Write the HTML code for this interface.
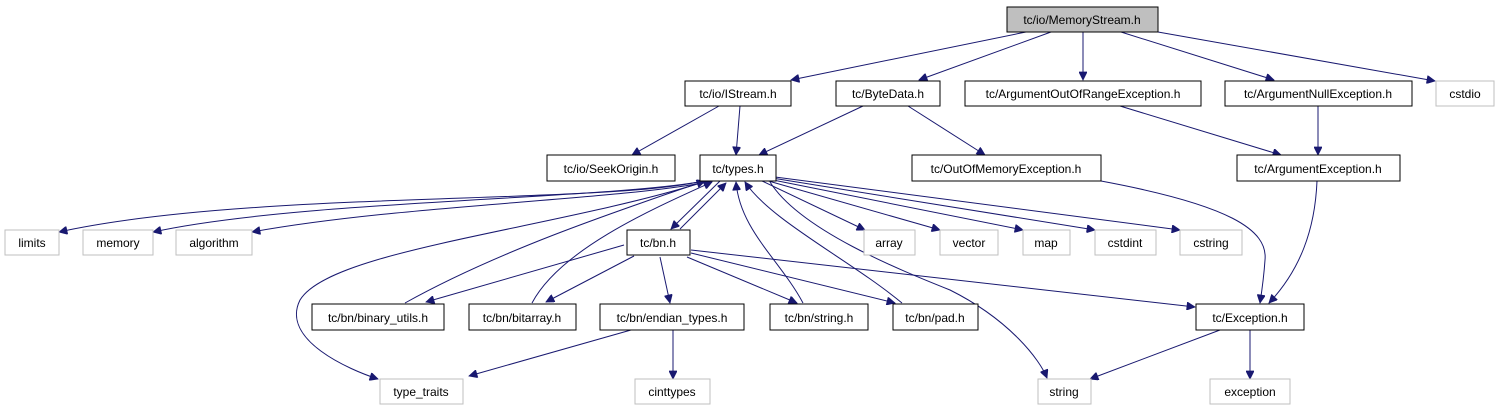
<!DOCTYPE html>
<html><head><meta charset="utf-8"><style>
html,body{margin:0;padding:0;background:#fff}
svg{display:block}
text{font-family:"Liberation Sans",Helvetica,sans-serif;font-size:12px;text-anchor:middle;fill:#000}
.n rect{fill:#fff;stroke:#000;stroke-width:1}
.g rect{fill:#fff;stroke:#bfbfbf;stroke-width:1}
path{fill:none;stroke:#191970;stroke-width:1}
</style></head><body>
<svg width="1495" height="411" viewBox="0 0 1495 411" xmlns="http://www.w3.org/2000/svg">
<defs><marker id="a" viewBox="0 0 10 10" refX="10" refY="5" markerWidth="10" markerHeight="8" orient="auto" markerUnits="userSpaceOnUse"><path d="M0,0 L10,5 L0,10 z" style="fill:#191970;stroke:#191970"/></marker></defs>
<g marker-end="url(#a)">
<path d="M1026,32 L791,80"/>
<path d="M1051,32 L919,80"/>
<path d="M1083,32 L1083,80"/>
<path d="M1121,32 L1274,80"/>
<path d="M1158,32 L1435,81"/>
<path d="M719,106 L632,155"/>
<path d="M740,106 L736,155"/>
<path d="M863,106 L759,155"/>
<path d="M908,106 L985,155"/>
<path d="M1120,106 L1281,155"/>
<path d="M1318,106 L1318,155"/>
<path d="M1101,181 C1230,205 1268,230 1265,260 C1264,275 1262,290 1260,303"/>
<path d="M1317,181 C1315,230 1300,270 1269,303"/>
<path d="M703,181 C600,205 250,190 59,232"/>
<path d="M705,181 C600,200 300,200 153,232"/>
<path d="M707,182 C620,200 400,205 252,232"/>
<path d="M762,181 L865,230"/>
<path d="M765,180 L940,230"/>
<path d="M768,179 L1023,230"/>
<path d="M772,178 L1095,230"/>
<path d="M775,177 L1180,230"/>
<path d="M720,181 L671,229"/>
<path d="M680,229 L726,183"/>
<path d="M624,245 L426,302"/>
<path d="M634,256 L546,302"/>
<path d="M660,257 L670,303"/>
<path d="M687,257 L797,303"/>
<path d="M691,253 L895,303"/>
<path d="M691,250 L1195,307"/>
<path d="M405,303 C500,250 620,210 705,181"/>
<path d="M532,303 C560,250 650,210 712,182"/>
<path d="M803,303 C780,260 740,230 736,182"/>
<path d="M902,303 C850,260 770,220 745,182"/>
<path d="M704,182 C550,230 330,250 300,300 C280,340 350,370 378,379"/>
<path d="M770,182 C800,230 900,270 950,290 C1010,320 1040,360 1047,378"/>
<path d="M631,330 L469,376"/>
<path d="M673,330 L673,379"/>
<path d="M1220,330 L1090,379"/>
<path d="M1250,330 L1250,379"/>
</g>
<g class="n"><rect x="1007" y="7" width="151" height="25" style="fill:#bfbfbf"/><text x="1082" y="24">tc/io/MemoryStream.h</text></g>
<g class="n"><rect x="685" y="81" width="106" height="25"/><text x="738" y="98">tc/io/IStream.h</text></g>
<g class="n"><rect x="836" y="81" width="104" height="25"/><text x="888" y="98">tc/ByteData.h</text></g>
<g class="n"><rect x="965" y="81" width="236" height="25"/><text x="1083" y="98">tc/ArgumentOutOfRangeException.h</text></g>
<g class="n"><rect x="1225" y="81" width="187" height="25"/><text x="1318" y="98">tc/ArgumentNullException.h</text></g>
<g class="g"><rect x="1436" y="81" width="58" height="25"/><text x="1465" y="98">cstdio</text></g>
<g class="n"><rect x="547" y="155" width="128" height="26"/><text x="611" y="173">tc/io/SeekOrigin.h</text></g>
<g class="n"><rect x="700" y="155" width="76" height="26"/><text x="738" y="173">tc/types.h</text></g>
<g class="n"><rect x="912" y="155" width="189" height="26"/><text x="1006" y="173">tc/OutOfMemoryException.h</text></g>
<g class="n"><rect x="1237" y="155" width="163" height="26"/><text x="1318" y="173">tc/ArgumentException.h</text></g>
<g class="g"><rect x="5" y="230" width="54" height="25"/><text x="32" y="247">limits</text></g>
<g class="g"><rect x="83" y="230" width="70" height="25"/><text x="118" y="247">memory</text></g>
<g class="g"><rect x="176" y="230" width="76" height="25"/><text x="214" y="247">algorithm</text></g>
<g class="n"><rect x="627" y="230" width="63" height="25"/><text x="658" y="247">tc/bn.h</text></g>
<g class="g"><rect x="864" y="230" width="51" height="25"/><text x="889" y="247">array</text></g>
<g class="g"><rect x="940" y="230" width="58" height="25"/><text x="969" y="247">vector</text></g>
<g class="g"><rect x="1023" y="230" width="47" height="25"/><text x="1046" y="247">map</text></g>
<g class="g"><rect x="1095" y="230" width="61" height="25"/><text x="1125" y="247">cstdint</text></g>
<g class="g"><rect x="1180" y="230" width="62" height="25"/><text x="1211" y="247">cstring</text></g>
<g class="n"><rect x="312" y="304" width="132" height="26"/><text x="378" y="322">tc/bn/binary_utils.h</text></g>
<g class="n"><rect x="469" y="304" width="107" height="26"/><text x="522" y="322">tc/bn/bitarray.h</text></g>
<g class="n"><rect x="600" y="304" width="144" height="26"/><text x="672" y="322">tc/bn/endian_types.h</text></g>
<g class="n"><rect x="770" y="304" width="98" height="26"/><text x="819" y="322">tc/bn/string.h</text></g>
<g class="n"><rect x="893" y="304" width="85" height="26"/><text x="935" y="322">tc/bn/pad.h</text></g>
<g class="n"><rect x="1196" y="304" width="108" height="26"/><text x="1250" y="322">tc/Exception.h</text></g>
<g class="g"><rect x="380" y="379" width="83" height="25"/><text x="421" y="396">type_traits</text></g>
<g class="g"><rect x="635" y="379" width="75" height="25"/><text x="672" y="396">cinttypes</text></g>
<g class="g"><rect x="1038" y="379" width="53" height="25"/><text x="1064" y="396">string</text></g>
<g class="g"><rect x="1210" y="379" width="80" height="25"/><text x="1250" y="396">exception</text></g>
</svg>
</body></html>
